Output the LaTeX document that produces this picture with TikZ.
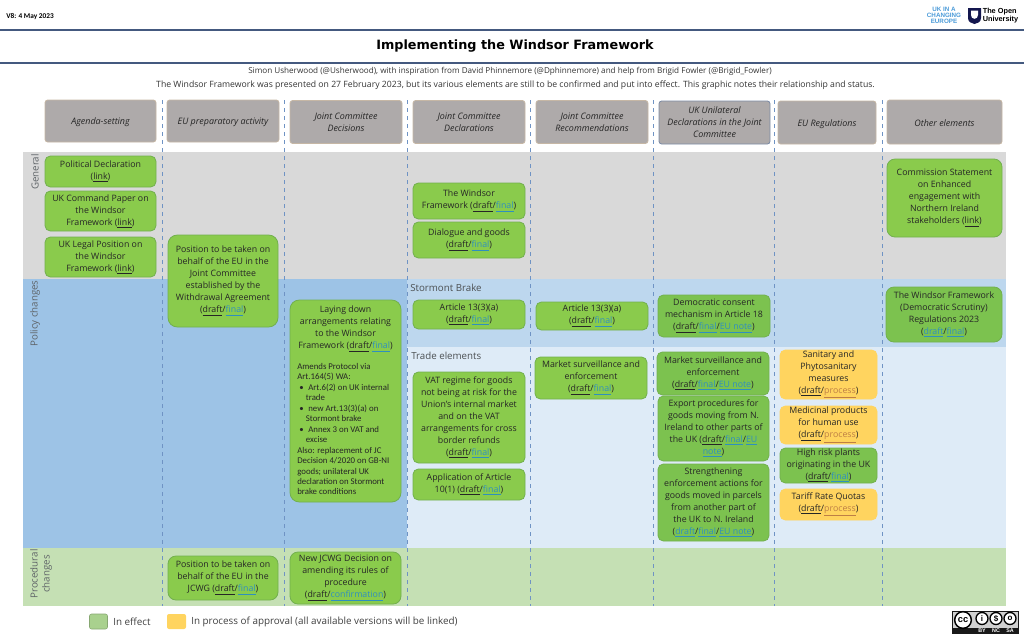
\documentclass[tikz,border=0pt]{standalone}
\usepackage{fontspec}
\setmainfont{Open Sans}
\newfontfamily\titlefont{DejaVu Sans}
\newfontfamily\notefont{Carlito}
\newfontfamily\logofont{Liberation Sans}
\definecolor{rulecol}{HTML}{44597F}
\definecolor{dashcol}{HTML}{6F93C4}
\definecolor{genband}{HTML}{D9D9D9}
\definecolor{polband}{HTML}{9DC3E6}
\definecolor{stband}{HTML}{BDD7EE}
\definecolor{trband}{HTML}{DEEBF7}
\definecolor{prband}{HTML}{C5E0B4}
\definecolor{greenfill}{HTML}{8ACB4C}
\definecolor{greenedge}{HTML}{72B04E}
\definecolor{greendark}{HTML}{7CC24F}
\definecolor{amber}{HTML}{FFD45F}
\definecolor{headfill}{HTML}{AEAAAA}
\definecolor{headedge}{HTML}{C6B7A5}
\definecolor{linkblue}{HTML}{2F8FBF}
\definecolor{linkbrown}{HTML}{BE7F45}
\definecolor{legendgreen}{HTML}{A9D18E}
\definecolor{labelgrey}{HTML}{5F6468}
\definecolor{ounavy}{HTML}{14174F}
\definecolor{uiceblue}{HTML}{4A9AD8}
\newcommand{\dr}{\underline{draft}}
\newcommand{\lnk}[1]{\textcolor{linkblue}{\underline{#1}}}
\newcommand{\prc}{\textcolor{linkbrown}{\underline{process}}}
\newcommand{\fin}{\lnk{final}}
\newcommand{\eun}{\lnk{EU note}}
\newcommand{\bodyfs}{\fontsize{6.6}{9}\selectfont}
\tikzset{
  sz/.style 2 args={minimum width=#1*0.75pt,minimum height=#2*0.75pt},
  basebox/.style={rounded corners=4pt,inner sep=0pt,align=center,font=\bodyfs,line width=0.6pt,text=black!85,execute at begin node={\rule{0pt}{7.2pt}}},
  greenbox/.style={basebox,fill=greenfill,draw=greenedge},
  greenboxd/.style={basebox,fill=greendark,draw=greenedge},
  amberbox/.style={basebox,fill=amber,draw=amber},
  headbox/.style={basebox,rounded corners=2pt,fill=headfill,draw=headedge,font=\fontsize{6.7}{9}\selectfont\itshape},
  bandlabel/.style={rotate=90,inner sep=0pt,text=labelgrey,align=center,font=\fontsize{7.3}{9}\selectfont},
  sectionlabel/.style={anchor=west,inner sep=0pt,text=labelgrey!80!black,font=\fontsize{7.3}{9}\selectfont},
  guide/.style={dashcol,dashed,line width=0.5pt},
  swatch/.style={rounded corners=1.5pt,inner sep=0pt},
  legendtext/.style={anchor=west,inner sep=0pt,text=black!75,font=\fontsize{7.4}{9}\selectfont},
}
\begin{document}
\begin{tikzpicture}[x=0.75pt,y=-0.75pt]
  \useasboundingbox (0,0) rectangle (1024,636);

  % top of the page
  \draw[rulecol,line width=1.3pt] (0,30) -- (1024,30);
  \draw[rulecol,line width=1.3pt] (0,63) -- (1024,63);
  \node[anchor=west,inner sep=0pt,font=\notefont\bfseries\fontsize{5.5}{7}\selectfont] (version) at (6,17) {V8: 4 May 2023};
  \node[inner sep=0pt,font=\titlefont\bfseries\fontsize{9.6}{11}\selectfont] (title) at (515,46.5) {Implementing the Windsor Framework};
  \node[inner sep=0pt,font=\fontsize{6.1}{8}\selectfont,text=black!80] (credit) at (510,71) {Simon Usherwood (@Usherwood), with inspiration from David Phinnemore (@Dphinnemore) and help from Brigid Fowler (@Brigid\_Fowler)};
  \node[inner sep=0pt,font=\fontsize{6.5}{8}\selectfont,text=black!80] (intro) at (515.5,85) {The Windsor Framework was presented on 27 February 2023, but its various elements are still to be confirmed and put into effect. This graphic notes their relationship and status.};

  % logos
  \node[inner sep=0pt,align=center,text=uiceblue,font=\logofont\bfseries\fontsize{4.7}{4.6}\selectfont] (uice) at (944,15.5) {UK IN A\\CHANGING\\EUROPE};
  \fill[ounavy] (968,8) -- (981,8) -- (981,18) .. controls (981,22) and (977.5,23.5) .. (974.5,24) .. controls (971.5,23.5) and (968,22) .. (968,18) -- cycle;
  \fill[white] (971,10.5) -- (978,10.5) -- (978,15) .. controls (978,17.5) and (976.5,18.5) .. (974.5,18.8) .. controls (972.5,18.5) and (971,17.5) .. (971,15) -- cycle;
  \node[anchor=west,inner sep=0pt,align=left,font=\logofont\bfseries\fontsize{5.5}{6.2}\selectfont] (ou) at (982.5,15.5) {The Open\\University};

  % bands
  \fill[genband] (23,152) rectangle (1006,279);
  \fill[polband] (23,279) rectangle (407,548);
  \fill[stband] (407,279) rectangle (1006,347);
  \fill[trband] (407,347) rectangle (1006,548);
  \fill[prband] (23,548) rectangle (1006,606);
  \foreach \gx in {162.5,284.5,407,530,653,774.5,882}
    \draw[guide] (\gx,100) -- (\gx,606);

  \node[bandlabel] (general) at (35,172) {General};
  \node[bandlabel] (policy) at (35,313.5) {Policy changes};
  \node[bandlabel] (procedural) at (41,574) {Procedural\\changes};
  \node[sectionlabel] (stormont) at (410,288) {Stormont Brake};
  \node[sectionlabel] (trade) at (411,356) {Trade elements};

  % column heads
  \node[headbox,sz={111}{42}] (agenda) at (100.5,121) {Agenda-setting};
  \node[headbox,sz={112}{42}] (euprep) at (223,121) {EU preparatory activity};
  \node[headbox,sz={112}{43}] (jcdec) at (346,122) {Joint Committee\\Decisions};
  \node[headbox,sz={112}{43}] (jcdecl) at (469,122) {Joint Committee\\Declarations};
  \node[headbox,sz={112}{43}] (jcrec) at (592,122) {Joint Committee\\Recommendations};
  \node[headbox,sz={111}{43},draw=rulecol!70] (ukdecl) at (714.5,122.5) {UK Unilateral\\Declarations in the Joint\\Committee};
  \node[headbox,sz={98}{43}] (euregs) at (827,122.5) {EU Regulations};
  \node[headbox,sz={115}{44}] (other) at (944.5,122) {Other elements};

  % agenda-setting
  \node[greenbox,sz={111}{31}] (poldec) at (100.5,171.5) {Political Declaration\\(\underline{link})};
  \node[greenbox,sz={111}{40}] (command) at (100.5,211) {UK Command Paper on\\the Windsor\\Framework (\underline{link})};
  \node[greenbox,sz={111}{40}] (legal) at (100.5,257) {UK Legal Position on\\the Windsor\\Framework (\underline{link})};

  % EU preparatory activity
  \node[greenbox,rounded corners=7pt,sz={110}{92}] (position) at (223,281) {Position to be taken on\\behalf of the EU in the\\Joint Committee\\established by the\\Withdrawal Agreement\\(\dr/\fin)};
  \node[greenbox,rounded corners=6pt,sz={110}{44}] (jcwgpos) at (223,578) {Position to be taken on\\behalf of the EU in the\\JCWG (\dr/\fin)};

  % joint committee decisions
  \node[greenbox,rounded corners=7pt,sz={111}{202}] (laying) at (345.5,401) {};
  \node[inner sep=0pt,align=center,font=\bodyfs,text=black!85] (layingtop) at (345.5,329) {Laying down\\arrangements relating\\to the Windsor\\Framework (\dr/\fin)};
  \node[anchor=north west,inner sep=0pt,align=left,font=\notefont\fontsize{6.6}{7.85}\selectfont,text=black!85] (layingnote) at (297,363) {Amends Protocol via\\Art.164(5) WA:\\\hspace*{1.5pt}\textbullet\hspace{3.5pt}Art.6(2) on UK internal\\\hspace*{6.5pt}trade\\\hspace*{1.5pt}\textbullet\hspace{3.5pt}new Art.13(3)(a) on\\\hspace*{6.5pt}Stormont brake\\\hspace*{1.5pt}\textbullet\hspace{3.5pt}Annex 3 on VAT and\\\hspace*{6.5pt}excise\\Also: replacement of JC\\Decision 4/2020 on GB-NI\\goods; unilateral UK\\declaration on Stormont\\brake conditions};
  \node[greenbox,rounded corners=6pt,sz={111}{52}] (jcwgnew) at (345.5,578) {New JCWG Decision on\\amending its rules of\\procedure\\(\dr/\lnk{confirmation})};

  % joint committee declarations
  \node[greenbox,sz={112}{36}] (windsor) at (469,201) {The Windsor\\Framework (\dr/\fin)};
  \node[greenbox,sz={112}{36}] (dialogue) at (469,240) {Dialogue and goods\\(\dr/\fin)};
  \node[greenbox,sz={112}{29}] (artdecl) at (469,314.5) {Article 13(3)(a)\\(\dr/\fin)};
  \node[greenbox,sz={112}{91}] (vat) at (469,417.5) {VAT regime for goods\\not being at risk for the\\Union's internal market\\and on the VAT\\arrangements for cross\\border refunds\\(\dr/\fin)};
  \node[greenbox,sz={112}{31}] (applic) at (469,484.5) {Application of Article\\10(1) (\dr/\fin)};

  % joint committee recommendations
  \node[greenbox,sz={112}{28}] (artrec) at (592,316) {Article 13(3)(a)\\(\dr/\fin)};
  \node[greenbox,sz={112}{42}] (marketrec) at (591,378) {Market surveillance and\\enforcement\\(\dr/\fin)};

  % UK unilateral declarations
  \node[greenboxd,sz={112}{42}] (consent) at (714,316) {Democratic consent\\mechanism in Article 18\\(\dr/\fin/\eun)};
  \node[greenboxd,sz={112}{43}] (marketuk) at (713,373.5) {Market surveillance and\\enforcement\\(\dr/\fin/\eun)};
  \node[greenboxd,sz={111}{65}] (export) at (713.5,428.5) {Export procedures for\\goods moving from N.\\Ireland to other parts of\\the UK (\dr/\fin/\lnk{EU}\\\lnk{note})};
  \node[greenboxd,sz={111}{77}] (parcels) at (713.5,502.5) {Strengthening\\enforcement actions for\\goods moved in parcels\\from another part of\\the UK to N. Ireland\\(\lnk{draft}/\fin/\eun)};

  % EU regulations
  \node[amberbox,sz={97}{49}] (sps) at (828.5,374.5) {Sanitary and\\Phytosanitary\\measures\\(\dr/\prc)};
  \node[amberbox,sz={97}{38}] (medicinal) at (828.5,425) {Medicinal products\\for human use\\(\dr/\prc)};
  \node[greenboxd,sz={97}{35}] (plants) at (828.5,465.5) {High risk plants\\originating in the UK\\(\dr/\fin)};
  \node[amberbox,sz={97}{31}] (quotas) at (828.5,504.5) {Tariff Rate Quotas\\(\dr/\prc)};

  % other elements
  \node[greenbox,rounded corners=6pt,sz={115}{78}] (commission) at (944.5,198) {Commission Statement\\on Enhanced\\engagement with\\Northern Ireland\\stakeholders (\underline{link})};
  \node[greenboxd,rounded corners=6pt,sz={116}{55}] (scrutiny) at (944,314.5) {The Windsor Framework\\(Democratic Scrutiny)\\Regulations 2023\\(\lnk{draft}/\fin)};

  % legend
  \node[swatch,fill=legendgreen,draw=legendgreen!80!black,sz={18}{15}] (ineffect) at (98.5,621.5) {};
  \node[legendtext] (ineffecttext) at (113,621.5) {In effect};
  \node[swatch,fill=amber,sz={19}{15}] (inprocess) at (176.5,621.5) {};
  \node[legendtext] (inprocesstext) at (191,621.5) {In process of approval (all available versions will be linked)};

  % licence badge
  \node[fill=black!90,inner sep=0pt,sz={67}{23},anchor=north west] (badge) at (951.5,611) {};
  \fill[black!18] (952.5,612) rectangle (1017.5,627.5);
  \node[circle,draw=black,line width=1.1pt,fill=white,inner sep=0pt,minimum size=12.5pt,font=\logofont\bfseries\fontsize{7}{7}\selectfont] (cc) at (963,620) {cc};
  \node[circle,draw=black,line width=1pt,fill=white,inner sep=0pt,minimum size=9pt,font=\logofont\bfseries\fontsize{6}{6}\selectfont] (ccby) at (982,618.5) {i};
  \node[circle,draw=black,line width=1pt,fill=white,inner sep=0pt,minimum size=9pt,font=\logofont\bfseries\fontsize{6}{6}\selectfont] (ccnc) at (996,618.5) {\$};
  \node[circle,draw=black,line width=1pt,fill=white,inner sep=0pt,minimum size=9pt,font=\logofont\bfseries\fontsize{6}{6}\selectfont] (ccsa) at (1010,618.5) {o};
  \node[text=white,inner sep=0pt,font=\logofont\bfseries\fontsize{4}{4}\selectfont] (bytext) at (982,631) {BY};
  \node[text=white,inner sep=0pt,font=\logofont\bfseries\fontsize{4}{4}\selectfont] (nctext) at (996,631) {NC};
  \node[text=white,inner sep=0pt,font=\logofont\bfseries\fontsize{4}{4}\selectfont] (satext) at (1010,631) {SA};
\end{tikzpicture}
\end{document}
